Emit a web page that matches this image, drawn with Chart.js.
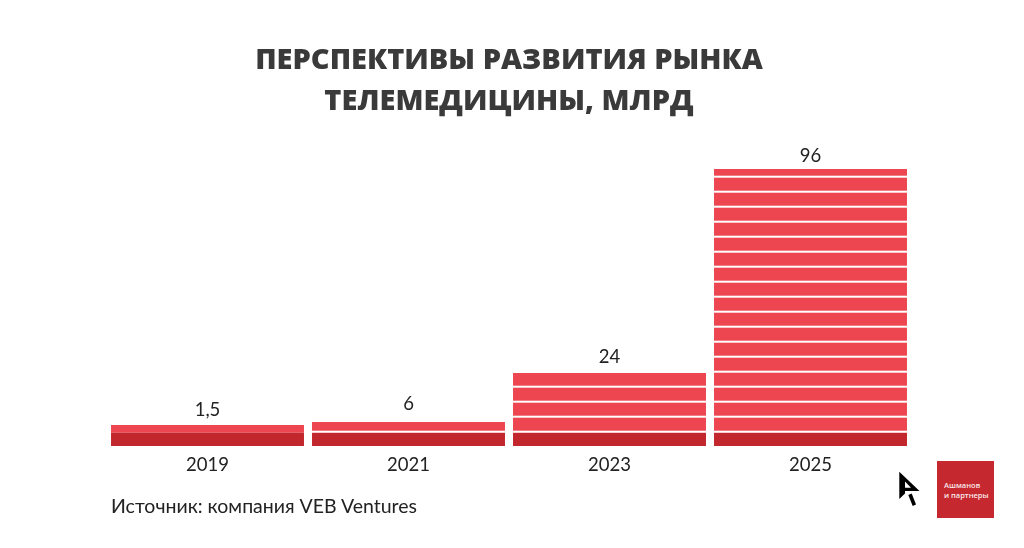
<!DOCTYPE html>
<html>
<head>
<meta charset="utf-8">
<script src="https://cdn.jsdelivr.net/npm/chart.js@4/dist/chart.umd.min.js"></script>
<style>
  html, body { margin: 0; padding: 0; background: #fff; overflow: hidden; }
  #wrap { position: relative; width: 1024px; height: 548px; }
  #source { position: absolute; left: 111px; top: 494px; font: 19.5px Lato, sans-serif; color: #222; white-space: nowrap; }
  #logo { position: absolute; left: 937px; top: 461px; width: 57px; height: 57px; background: #c5282f; color: #fff; font: 600 7.5px/10px "Open Sans", sans-serif; }
  #logo span { position: absolute; left: 7px; top: 19px; white-space: nowrap; opacity: 0.9; }
  #arrow { position: absolute; left: 890px; top: 465px; }
</style>
</head>
<body>
<div id="wrap">
  <canvas id="myChart" width="1024" height="548"></canvas>
  <div id="source">Источник: компания VEB Ventures</div>
  <svg id="arrow" width="40" height="45" viewBox="890 465 40 45">
    <path fill="#000" fill-rule="evenodd" d="M899.3 471.7 L919.5 491 L905 491 L905 493.5 L899.3 499 Z M905 481.5 L911 487.7 L905 487.7 Z" />
    <polygon fill="#000" points="908.3,495 911.7,493.5 916,504.5 912.7,506" />
  </svg>
  <div id="logo"><span>Ашманов<br>и партнеры</span></div>
</div>
<script>
// values are as printed, heights are what the picture actually draws (not to scale)
const years = ["2019", "2021", "2023", "2025"];
const valueLabels = ["1,5", "6", "24", "96"];
const darkHeights = [13.3, 13.3, 13.3, 13.3];
const lightHeights = [7.7, 10.7, 59.7, 263.7];
const stripeCounts = [0, 1, 4, 18];
const labelLift = [15, 18, 16, 13];

const titleLines = ["ПЕРСПЕКТИВЫ РАЗВИТИЯ РЫНКА", "ТЕЛЕМЕДИЦИНЫ, МЛРД"];

// white lines across the bars and the numbers above them
const barExtras = {
  id: "barExtras",
  afterDatasetsDraw(chart) {
    const ctx = chart.ctx;
    const y = chart.scales.y;
    const top = chart.getDatasetMeta(1).data;
    ctx.save();
    top.forEach(function (bar, i) {
      const left = bar.x - bar.width / 2;
      ctx.fillStyle = "#ffffff";
      for (let k = 0; k < stripeCounts[i]; k++) {
        const yPos = y.getPixelForValue(darkHeights[i] + 15 * k);
        ctx.fillRect(left, yPos - 2, bar.width, 2);
      }
      ctx.fillStyle = "#222222";
      ctx.font = "18.5px Lato, sans-serif";
      ctx.textAlign = "center";
      ctx.textBaseline = "middle";
      ctx.fillText(valueLabels[i], bar.x, bar.y - labelLift[i]);
    });
    ctx.restore();
  }
};

new Chart(document.getElementById("myChart"), {
  type: "bar",
  plugins: [barExtras],
  data: {
    labels: years,
    datasets: [
      { label: "dark", data: darkHeights, backgroundColor: "#c1272d" },
      { label: "light", data: lightHeights, backgroundColor: "#ed4651" }
    ]
  },
  options: {
    responsive: false,
    animation: false,
    barPercentage: 0.96,
    categoryPercentage: 1,
    layout: { padding: { left: 107, right: 113, top: 0, bottom: 0 } },
    plugins: {
      legend: { display: false },
      tooltip: { enabled: false },
      title: {
        display: true,
        text: titleLines,
        color: "#3a3a3a",
        font: { family: "Open Sans", size: 29, weight: "800", lineHeight: 40.5 / 29 },
        padding: { top: 40.5, bottom: 24.5 }
      }
    },
    scales: {
      x: {
        stacked: true,
        grid: { display: false },
        border: { display: false },
        ticks: { color: "#222222", padding: 0, maxRotation: 0, font: { family: "Lato", size: 18.5 } },
        afterFit(scale) { scale.height = 102; }
      },
      y: {
        stacked: true,
        display: false,
        min: 0,
        max: 300
      }
    }
  }
});
</script>
</body>
</html>
